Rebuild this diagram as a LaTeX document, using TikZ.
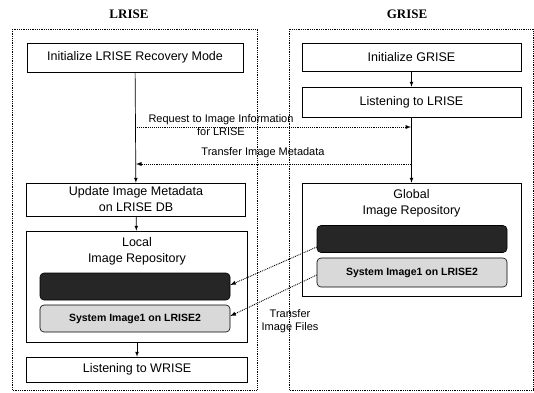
\documentclass[tikz,border=0pt]{standalone}
\usepackage{fontspec}
\setmainfont{Liberation Sans}
\newfontfamily\titlefont{Liberation Serif}
\usepackage{tikz}
\usetikzlibrary{positioning}
\begin{document}
\begin{tikzpicture}[x=1pt, y=-1pt, >=latex, every node/.style={font=\fontsize{12.5}{16}\selectfont},
    box/.style={draw, line width=0.6pt, minimum width=219, minimum height=29, inner sep=0, align=center},
    disk/.style={draw, line width=0.6pt, rounded corners=4pt, minimum width=190, minimum height=27, inner sep=0},
    frame/.style={draw, densely dotted, line width=0.8pt},
    flow/.style={->, line width=0.7pt},
    msg/.style={->, densely dotted, line width=0.9pt},
    heading/.style={font=\titlefont\bfseries\fontsize{13}{15}\selectfont},
    tag/.style={font=\fontsize{11}{12.5}\selectfont, align=center, inner sep=0}]
        \useasboundingbox (0,0) rectangle (534,392);
        \draw[frame] (12,29) rectangle (257,390);
        \draw[frame] (289,29) rectangle (533,390);
        \node[heading] (ltitle) at (129,14) {LRISE};
        \node[heading] (gtitle) at (407,14) {GRISE};
        % LRISE side
        \node[box, minimum width=216] (linit) at (135,57.5) {Initialize LRISE Recovery Mode};
        \node[box, minimum height=33] (update) at (136,199.5) {Update Image Metadata\\on LRISE DB};
        \node[box, minimum width=221, minimum height=111] (local) at (137,286.5) {};
        \node[below=3pt of local.north, align=center] (localtext) {Local\\Image Repository};
        \node[disk, fill=black!85] (ldisk) at (135,286.5) {};
        \node[disk, fill=gray!30, font=\bfseries\fontsize{10.5}{12}\selectfont] (lsys) at (135,318.5) {System Image1 on LRISE2};
        \node[box, minimum width=221, minimum height=25] (wrise) at (137,369.5) {Listening to WRISE};
        \draw[flow] (linit) -- (update);
        \draw[flow] (update) -- (local);
        \draw[flow] (local) -- (wrise);
        % GRISE side
        \node[box, minimum height=28] (ginit) at (411.5,57) {Initialize GRISE};
        \node[box, minimum height=30] (listen) at (411.5,102) {Listening to LRISE};
        \node[box, minimum height=113] (global) at (411.5,239.5) {};
        \node[below=3pt of global.north, align=center] (globaltext) {Global\\Image Repository};
        \node[disk, fill=black!85] (gdisk) at (412,239) {};
        \node[disk, fill=gray!30, minimum height=29, font=\bfseries\fontsize{10.5}{12}\selectfont] (gsys) at (412,272.5) {System Image1 on LRISE2};
        \draw[flow] (ginit) -- (listen);
        \draw[flow] (listen) -- (global);
        % messages
        \coordinate (reqL) at (135,127);
        \coordinate (reqG) at (411,127);
        \coordinate (metaG) at (411,164);
        \coordinate (metaL) at (136,164);
        \draw[msg] (reqL) -- (reqG);
        \node[tag] (reqtext) at (221,125) {Request to Image Information\\\hspace*{0pt}for LRISE};
        \draw[msg] (metaG) -- (metaL);
        \node[tag, above] (metatext) at (263,158) {Transfer Image Metadata};
        \draw[msg] ([yshift=-8pt]gdisk.west) -- ([yshift=1.5pt]ldisk.east);
        \draw[msg] ([yshift=-2.5pt]gsys.west) -- ([yshift=2.5pt]lsys.east);
        \node[tag] (filetext) at (290,321) {Transfer\\Image Files};
\end{tikzpicture}
\end{document}
